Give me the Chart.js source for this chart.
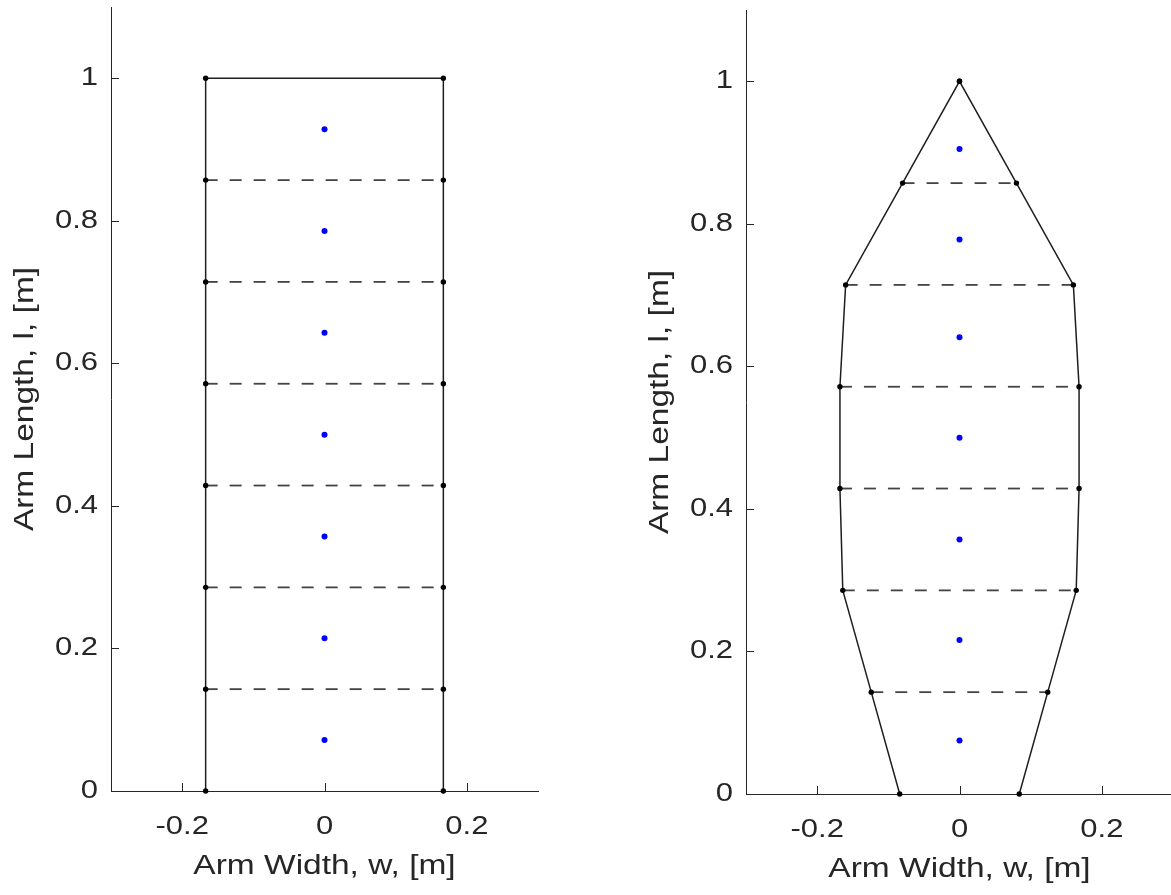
<!DOCTYPE html>
<html>
<head>
<meta charset="utf-8">
<script src="https://cdn.jsdelivr.net/npm/chart.js@4.4.0/dist/chart.umd.min.js"></script>
<style>
  html, body { margin: 0; padding: 0; width: 1171px; height: 895px; overflow: hidden; background: #ffffff; }
  canvas { position: absolute; }
  #armRect { left: 0; top: 0; }
  #armTaper { left: 635px; top: 3px; }
</style>
</head>
<body>
<canvas id="armRect" width="600" height="895"></canvas>
<canvas id="armTaper" width="600" height="895"></canvas>
<script>
// Station positions along the arm [m]
const stationLength = [0, 0.1429, 0.2857, 0.4286, 0.5714, 0.7143, 0.8571, 1.0];
// Half-width of the arm at each station [m]
const halfWidthRect  = [0.167, 0.167, 0.167, 0.167, 0.167, 0.167, 0.167, 0.167];
const halfWidthTaper = [0.084, 0.124, 0.164, 0.168, 0.168, 0.160, 0.080, 0];
// Centroid height of each panel between stations [m]
const centroidRect  = [0.0714, 0.2143, 0.3571, 0.5, 0.6429, 0.7857, 0.9286];
const centroidTaper = [0.075, 0.216, 0.357, 0.5, 0.641, 0.778, 0.905];
// Axis ticks and labels
const xTickValues = [-0.2, 0, 0.2];
const yTickValues = [0, 0.2, 0.4, 0.6, 0.8, 1];
const xRange = [-0.3, 0.3];
const yRange = [0, 1.1];
const xTitle = 'Arm Width, w, [m]';
const yTitle = 'Arm Length, l, [m]';

const FONT = '"Liberation Sans", Arial, Helvetica, sans-serif';
const INK = '#262626';

// Helvetica as rendered here runs wider than Liberation Sans: stretch glyphs along the baseline
function widenText(canvas, factor) {
  const ctx = canvas.getContext('2d');
  const fill = ctx.fillText;
  ctx.fillText = function (text, x, y, maxWidth) {
    this.save();
    this.translate(x, y);
    this.scale(factor, 1);
    if (maxWidth === undefined) fill.call(this, text, 0, 0);
    else fill.call(this, text, 0, 0, maxWidth);
    this.restore();
  };
  return canvas;
}

// Short tick marks drawn inside the axes
const inwardTicks = {
  id: 'inwardTicks',
  afterDatasetsDraw(chart) {
    const { ctx, chartArea: a, scales: { x, y } } = chart;
    ctx.save();
    ctx.strokeStyle = INK;
    ctx.lineWidth = 1;
    ctx.beginPath();
    x.ticks.forEach(t => {
      const px = Math.round(x.getPixelForValue(t.value)) + 0.5;
      ctx.moveTo(px, a.bottom);
      ctx.lineTo(px, a.bottom - 8);
    });
    y.ticks.forEach(t => {
      const py = Math.round(y.getPixelForValue(t.value)) + 0.5;
      ctx.moveTo(a.left, py);
      ctx.lineTo(a.left + 8, py);
    });
    ctx.stroke();
    ctx.restore();
  }
};

const fmt = v => (Math.abs(v) < 1e-9 ? '0' : String(+v.toFixed(1)));

function armDatasets(lengths, halfWidths, centroids) {
  const leftEdge = lengths.map((l, i) => ({ x: -halfWidths[i], y: l }));
  const rightEdge = lengths.map((l, i) => ({ x: halfWidths[i], y: l })).reverse();
  const outline = leftEdge.concat(rightEdge);

  const rungs = [];
  for (let i = 1; i < lengths.length - 1; i++) {
    rungs.push({
      label: 'station ' + i,
      data: [{ x: -halfWidths[i], y: lengths[i] }, { x: halfWidths[i], y: lengths[i] }],
      showLine: true,
      borderColor: '#444444',
      borderWidth: 1.8,
      borderDash: [12, 12],
      pointRadius: 0,
      clip: false
    });
  }

  return [
    {
      label: 'centroids',
      data: centroids.map(c => ({ x: 0, y: c })),
      showLine: false,
      pointRadius: 3,
      pointBackgroundColor: '#0000ff',
      pointBorderWidth: 0,
      clip: false
    },
    {
      label: 'nodes',
      data: outline,
      showLine: false,
      pointRadius: 2.7,
      pointBackgroundColor: '#000000',
      pointBorderWidth: 0,
      clip: false
    },
    {
      label: 'outline',
      data: outline,
      showLine: true,
      borderColor: '#1e1e1e',
      borderWidth: 1.5,
      pointRadius: 0,
      tension: 0,
      clip: false
    },
    ...rungs
  ];
}

function armOptions() {
  return {
    responsive: false,
    animation: false,
    events: [],
    layout: { padding: { left: 0, right: 62, top: 7, bottom: 0 } },
    plugins: { legend: { display: false }, tooltip: { enabled: false } },
    scales: {
      x: {
        type: 'linear',
        min: xRange[0],
        max: xRange[1],
        afterBuildTicks: s => { s.ticks = xTickValues.map(v => ({ value: v })); },
        afterFit: s => { s.height = 104; s.paddingLeft = 0; s.paddingRight = 0; },
        grid: { drawOnChartArea: false, drawTicks: false },
        border: { display: true, color: INK, width: 1 },
        ticks: { padding: 21, color: INK, font: { family: FONT, size: 25 }, callback: v => fmt(v), maxRotation: 0 },
        title: { display: true, text: xTitle, color: INK, font: { family: FONT, size: 27 }, padding: { top: 0, bottom: 12 } }
      },
      y: {
        type: 'linear',
        min: yRange[0],
        max: yRange[1],
        afterBuildTicks: s => { s.ticks = yTickValues.map(v => ({ value: v })); },
        afterFit: s => { s.width = 111; s.paddingTop = 0; s.paddingBottom = 0; },
        grid: { drawOnChartArea: false, drawTicks: false },
        border: { display: true, color: INK, width: 1 },
        ticks: { padding: 13, color: INK, font: { family: FONT, size: 25 }, callback: v => fmt(v) },
        title: { display: true, text: yTitle, color: INK, font: { family: FONT, size: 27 }, padding: { top: 9, bottom: 0 } }
      }
    }
  };
}

new Chart(widenText(document.getElementById('armRect'), 1.24), {
  type: 'scatter',
  data: { datasets: armDatasets(stationLength, halfWidthRect, centroidRect) },
  options: armOptions(),
  plugins: [inwardTicks]
});

new Chart(widenText(document.getElementById('armTaper'), 1.24), {
  type: 'scatter',
  data: { datasets: armDatasets(stationLength, halfWidthTaper, centroidTaper) },
  options: armOptions(),
  plugins: [inwardTicks]
});
</script>
</body>
</html>
